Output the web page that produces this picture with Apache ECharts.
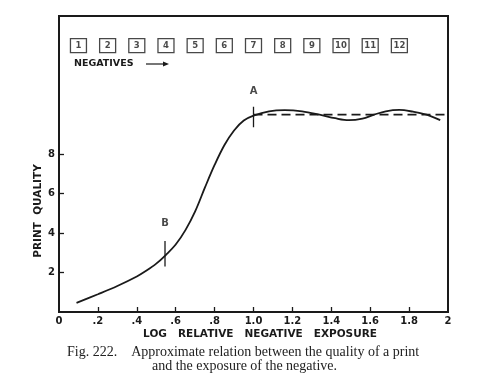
<!DOCTYPE html>
<html><head><meta charset="utf-8">
<script src="https://cdn.jsdelivr.net/npm/echarts@6/dist/echarts.min.js"></script>
<style>html,body{margin:0;padding:0;background:#fff}#c{width:492px;height:382px}</style>
</head><body><div id="c"></div>
<script>
// Curve data (log relative negative exposure, print quality)
const curveX = [0.09,0.2,0.3,0.4,0.45,0.5,0.55,0.6,0.65,0.7,0.75,0.8,0.85,0.9,0.95,1.0,1.08,1.16,1.25,1.34,1.42,1.49,1.56,1.62,1.68,1.75,1.82,1.89,1.96];
const curveY = [0.46,0.9,1.32,1.8,2.1,2.45,2.9,3.42,4.15,5.1,6.3,7.45,8.45,9.2,9.7,9.95,10.17,10.23,10.17,10.0,9.82,9.72,9.8,10.0,10.17,10.24,10.15,10.0,9.72];
// dashed plateau level
const plateauX = [1.0, 2.0];
const plateauY = [10, 10];
// marker ticks A and B
const markNames = ['A','B'];
const markX = [1.0, 0.545];
const markLow = [9.36, 2.3];
const markHigh = [10.4, 3.6];
const markLabelY = [11.2, 4.5];
// negatives boxes
const negLabels = ['1','2','3','4','5','6','7','8','9','10','11','12'];
const negX = [0.1,0.25,0.4,0.55,0.7,0.85,1.0,1.15,1.3,1.45,1.6,1.75];
const negY = 13.5;
// axis ticks
const xTickValues = [0,0.2,0.4,0.6,0.8,1.0,1.2,1.4,1.6,1.8,2];
const xTickLabels = ['0','.2','.4','.6','.8','1.0','1.2','1.4','1.6','1.8','2'];
const yTickValues = [2,4,6,8];
const yTickLabels = ['2','4','6','8'];

const ink = '#1a1a1a';
const lblFont = {fontFamily:'DejaVu Sans', fontWeight:'bold', color:ink};

const chart = echarts.init(document.getElementById('c'), null, {renderer:'canvas'});
const series = [];
series.push({type:'line', data: curveX.map((x,i)=>[x,curveY[i]]), smooth:0.35, symbol:'none',
  lineStyle:{color:ink, width:1.8}, z:3});
series.push({type:'line', data: plateauX.map((x,i)=>[x,plateauY[i]]), symbol:'none',
  lineStyle:{color:ink, width:1.8, type:[9,5]}, z:2});
markNames.forEach((n,i)=>{
  series.push({type:'line', data:[[markX[i],markLow[i]],[markX[i],markHigh[i]]], symbol:'none',
    lineStyle:{color:ink, width:1.3}, z:4});
});
series.push({type:'scatter', data: markNames.map((n,i)=>[markX[i],markLabelY[i],n]), symbolSize:0,
  label:{show:true, position:'inside', formatter:p=>p.data[2], fontSize:10, ...lblFont}});
series.push({type:'scatter', data: negLabels.map((n,i)=>[negX[i],negY,n]), symbol:'rect', symbolSize:[16,14],
  itemStyle:{color:'#fff', borderColor:ink, borderWidth:1.2},
  label:{show:true, position:'inside', formatter:p=>p.data[2], fontSize:8.5, ...lblFont}, z:5});

chart.setOption({
  animation:false,
  backgroundColor:'#fff',
  grid:{left:59, right:44, top:16, bottom:70, show:true, borderColor:ink, borderWidth:2, backgroundColor:'transparent'},
  xAxis:{type:'value', min:0, max:2, interval:0.2,
    axisLine:{show:false}, splitLine:{show:false},
    axisTick:{inside:true, length:5, lineStyle:{color:ink, width:1.3}, customValues: xTickValues.slice(1,-1)},
    axisLabel:{customValues:xTickValues, margin:4, fontSize:10, ...lblFont,
      formatter:v=>{const i=xTickValues.findIndex(t=>Math.abs(t-v)<1e-6); return i>=0?xTickLabels[i]:'';}}},
  yAxis:{type:'value', min:0, max:15,
    axisLine:{show:false}, splitLine:{show:false},
    axisTick:{inside:true, length:5, lineStyle:{color:ink, width:1.3}, customValues:yTickValues},
    axisLabel:{customValues:yTickValues, margin:4, fontSize:10, ...lblFont,
      formatter:v=>{const i=yTickValues.indexOf(v); return i>=0?yTickLabels[i]:'';}}},
  graphic:[
    {type:'text', left:74, top:59, style:{text:'NEGATIVES', font:'bold 9.5px "DejaVu Sans"', fill:ink}},
    {type:'line', shape:{x1:146,y1:64,x2:166,y2:64}, style:{stroke:ink, lineWidth:1.2}},
    {type:'polygon', shape:{points:[[169,64],[163,61.5],[163,66.5]]}, style:{fill:ink}},
    {type:'text', x:260, y:334, style:{text:'LOG   RELATIVE   NEGATIVE   EXPOSURE', font:'bold 10.5px "DejaVu Sans"', fill:ink, align:'center', verticalAlign:'middle'}},
    {type:'text', x:38, y:211, rotation:Math.PI/2, style:{text:'PRINT  QUALITY', font:'bold 10.5px "DejaVu Sans"', fill:ink, align:'center', verticalAlign:'middle'}},
    {type:'text', left:67, top:345, style:{text:'Fig. 222.    Approximate relation between the quality of a print', font:'14px "Liberation Serif"', fill:'#222'}},
    {type:'text', left:152, top:359.5, style:{text:'and the exposure of the negative.', font:'14px "Liberation Serif"', fill:'#222'}}
  ],
  series:series
});
</script></body></html>
